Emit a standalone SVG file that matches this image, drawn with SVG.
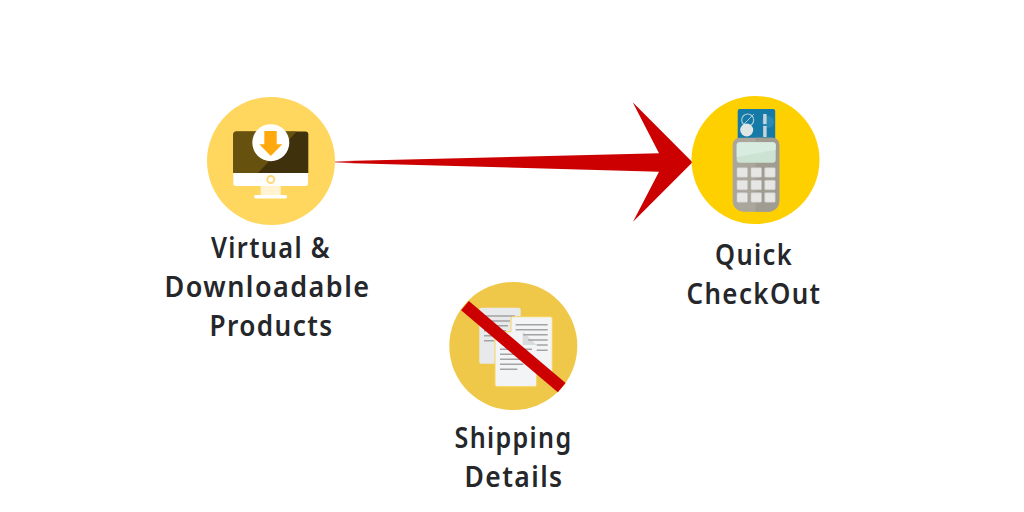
<svg xmlns="http://www.w3.org/2000/svg" width="1024" height="512" viewBox="0 0 1024 512">
<defs>
<linearGradient id="shaft" x1="335" y1="0" x2="660" y2="0" gradientUnits="userSpaceOnUse"><stop offset="0" stop-color="#e88a92"/><stop offset="0.06" stop-color="#cc0000"/><stop offset="1" stop-color="#cc0000"/></linearGradient>
</defs>
<style>
.lbl{font-family:"Noto Sans","Open Sans","DejaVu Sans",sans-serif;font-size:28px;font-weight:600;fill:#25272b;text-anchor:middle;letter-spacing:1.5px}
.key{fill:#e6e6e4;stroke:#c9c9c6;stroke-width:.6}
.ln{stroke:#a3a3a3;stroke-width:1.6;fill:none}
.page{fill:#f3f4f6;stroke:#f5d35c;stroke-width:1}
</style>
<rect width="1024" height="512" fill="#ffffff"/>

<g id="connectors">
<path id="arrow" d="M335 161.300L659 153.300L632.700 102.300L692.500 162.300L633 221.700L659 171.700L335 162.800Z" fill="url(#shaft)"/>
</g>

<g id="node-virtual">
<circle cx="271" cy="161" r="64" fill="#ffd65e"/>
<path d="M233.300 134.500a3 3 0 0 1 3-3h69a3 3 0 0 1 3 3V173H233.300Z" fill="#3f310b"/>
<path d="M233.300 134.500a3 3 0 0 1 3-3h60.500L258 173H233.300Z" fill="#66510f"/>
<path d="M233.300 173H308v10.500a2.500 2.500 0 0 1-2.500 2.500H235.800a2.500 2.500 0 0 1-2.500-2.500Z" fill="#ffffff"/>
<circle cx="270.800" cy="179.500" r="3.500" fill="#fff" stroke="#ffd978" stroke-width="2"/>
<rect x="260.700" y="186" width="20" height="9" fill="#fff3d2"/>
<rect x="254" y="195" width="33" height="3.500" rx="1.700" fill="#ffffff"/>
<circle cx="270.800" cy="142.700" r="18.500" fill="#ffffff"/>
<path d="M264.300 131H276.700V144.300H282.300L270.800 156L259.300 144.300H264.300Z" fill="#ffa90f"/>
<text class="lbl" x="271" y="258" textLength="120" lengthAdjust="spacingAndGlyphs">Virtual &amp;</text>
<text class="lbl" x="267.500" y="297" textLength="206" lengthAdjust="spacingAndGlyphs">Downloadable</text>
<text class="lbl" x="271.500" y="336" textLength="124" lengthAdjust="spacingAndGlyphs">Products</text>
</g>

<g id="node-checkout">
<circle cx="755.500" cy="160" r="64" fill="#ffd000"/>
<rect x="737.700" y="109" width="37.500" height="34" rx="2" fill="#157aa8"/>
<circle cx="768" cy="122" r="6" fill="#2a8ab5"/>
<circle cx="747.700" cy="120" r="6" fill="none" stroke="#a9c9d4" stroke-width="1.200"/>
<path d="M743 125L754 114" stroke="#a9c9d4" stroke-width="1"/>
<circle cx="746.700" cy="130" r="6.500" fill="#dfe6e6"/>
<path d="M764.900 114V124M764.900 126V137" stroke="#c4d4d8" stroke-width="3.500"/>
<path d="M732.700 144.700a7 7 0 0 1 7-7h32.600a7 7 0 0 1 7 7V201a10.700 10.700 0 0 1-10.700 10.700H743.400a10.700 10.700 0 0 1-10.700-10.700Z" fill="#aaa69c"/>
<path d="M755.500 137.700h16.800a7 7 0 0 1 7 7V201a10.700 10.700 0 0 1-10.700 10.700H755.500Z" fill="#a09c92"/>
<rect x="736.700" y="142.300" width="39" height="20.400" rx="3" fill="#cce3d4"/>
<path d="M736.700 157V145.300a3 3 0 0 1 3-3h33a3 3 0 0 1 3 3v4.500Z" fill="#d9ece0"/>
<rect class="key" x="737" y="167.700" width="10.500" height="9.500" rx="1"/>
<rect class="key" x="751" y="167.700" width="10.500" height="9.500" rx="1"/>
<rect class="key" x="764.700" y="167.700" width="10.500" height="9.500" rx="1"/>
<rect class="key" x="737" y="180.300" width="10.500" height="9.500" rx="1"/>
<rect class="key" x="751" y="180.300" width="10.500" height="9.500" rx="1"/>
<rect class="key" x="764.700" y="180.300" width="10.500" height="9.500" rx="1"/>
<rect class="key" x="737" y="192.700" width="10.500" height="9.500" rx="1"/>
<rect class="key" x="751" y="192.700" width="10.500" height="9.500" rx="1"/>
<rect class="key" x="764.700" y="192.700" width="10.500" height="9.500" rx="1"/>
<text class="lbl" x="754" y="265" textLength="78" lengthAdjust="spacingAndGlyphs">Quick</text>
<text class="lbl" x="754" y="304" textLength="135" lengthAdjust="spacingAndGlyphs">CheckOut</text>
</g>

<g id="node-shipping">
<circle cx="513.300" cy="346" r="64" fill="#efc84a"/>
<rect x="479.300" y="307.700" width="41.400" height="56" rx="2" fill="#e8e9eb"/>
<path class="ln" d="M484 316H515M484 321H510M484 325.700H508M484 330.700H506M484 335.700H504M484 340.700H494"/>
<path class="page" d="M513 316.700H550.300a2 2 0 0 1 2 2V371.700H536.700V384.700a2 2 0 0 1-2 2H497a2 2 0 0 1-2-2V333.700a2 2 0 0 1 2-2H511V318.700a2 2 0 0 1 2-2Z"/>
<path d="M522.700 331.700L536.700 345H522.700Z" fill="#d9dadc"/>
<path class="ln" d="M515.700 324.700H547.700M515.700 329.700H547.700M523.300 334.700H547.700M528.300 340H547.700M536.700 345H547.700M536.700 350.300H547.700"/>
<path class="ln" d="M500 349.300H532M500 354.300H530M500 359.300H527.300M500 364.300H523.300M500 369.300H517.300"/>
<path d="M465 305.700L561.700 387.700" stroke="#cc0000" stroke-width="12" fill="none"/>
<text class="lbl" x="513.500" y="448" textLength="118" lengthAdjust="spacingAndGlyphs">Shipping</text>
<text class="lbl" x="514" y="487" textLength="99" lengthAdjust="spacingAndGlyphs">Details</text>
</g>
</svg>
